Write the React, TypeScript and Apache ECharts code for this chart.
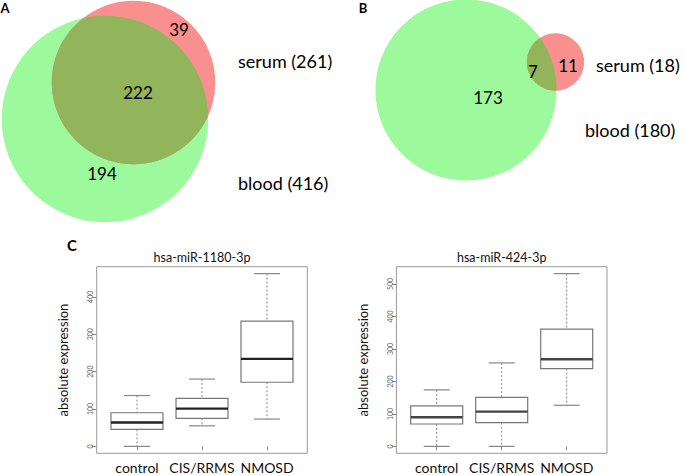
import React, { useEffect, useRef } from "react";
import * as echarts from "echarts";

// ---------- data ----------
const setNames = ["blood", "serum"];
const vennATotals = [416, 261]; // blood, serum
const vennACounts = [194, 222, 39]; // blood only, both, serum only
const vennBTotals = [180, 18];
const vennBCounts = [173, 7, 11];

const boxCategories = ["control", "CIS/RRMS", "NMOSD"];
const boxTitles = ["hsa-miR-1180-3p", "hsa-miR-424-3p"];
// [low whisker, Q1, median, Q3, high whisker]
const mir1180 = [
  [0, 45.5, 64, 90, 136],
  [55, 75, 101, 128.5, 180],
  [73, 171.5, 234, 335, 462],
];
const mir424 = [
  [0, 69, 89.5, 124.5, 174],
  [0, 73, 107, 151, 257],
  [126.5, 239.5, 268.5, 361, 532],
];
const yTicks1180 = [0, 100, 200, 300, 400];
const yTicks424 = [0, 100, 200, 300, 400, 500];
const yAxisName = "absolute expression";
const panelLetters = ["A", "B", "C"];

// ---------- layout / style ----------
const FONT = "Lato, 'Open Sans', sans-serif";
const GREEN = "#9cf99c";
const RED = "#f98f8f";
const OLIVE = "#92b45a";

function lensPoints(c1: number[], r1: number, c2: number[], r2: number) {
  const dx = c2[0] - c1[0];
  const dy = c2[1] - c1[1];
  const d = Math.sqrt(dx * dx + dy * dy);
  const t12 = Math.atan2(dy, dx);
  const t21 = t12 + Math.PI;
  const a1 = Math.acos((d * d + r1 * r1 - r2 * r2) / (2 * d * r1));
  const a2 = Math.acos((d * d + r2 * r2 - r1 * r1) / (2 * d * r2));
  const pts: number[][] = [];
  const n = 90;
  for (let i = 0; i <= n; i++) {
    const t = t12 - a1 + (2 * a1 * i) / n;
    pts.push([c1[0] + r1 * Math.cos(t), c1[1] + r1 * Math.sin(t)]);
  }
  for (let i = 0; i <= n; i++) {
    const t = t21 - a2 + (2 * a2 * i) / n;
    pts.push([c2[0] + r2 * Math.cos(t), c2[1] + r2 * Math.sin(t)]);
  }
  return pts;
}

function venn(
  totals: number[],
  counts: number[],
  k: number,
  cBlood: number[],
  cSerum: number[],
  countPos: number[][],
  namePos: number[][],
) {
  const rB = k * Math.sqrt(totals[0]);
  const rS = k * Math.sqrt(totals[1]);
  const els: any[] = [
    { type: "circle", shape: { cx: cBlood[0], cy: cBlood[1], r: rB }, style: { fill: GREEN } },
    { type: "circle", shape: { cx: cSerum[0], cy: cSerum[1], r: rS }, style: { fill: RED } },
    { type: "polygon", shape: { points: lensPoints(cBlood, rB, cSerum, rS) }, style: { fill: OLIVE } },
  ];
  counts.forEach((c, i) => {
    els.push({
      type: "text",
      x: countPos[i][0],
      y: countPos[i][1],
      style: { text: String(c), fill: "#000", font: `17px ${FONT}`, textAlign: "center", textVerticalAlign: "middle" },
    });
  });
  // serum label first (upper), then blood
  [1, 0].forEach((si, j) => {
    els.push({
      type: "text",
      x: namePos[j][0],
      y: namePos[j][1],
      style: {
        text: `${setNames[si]} (${totals[si]})`,
        fill: "#000",
        font: `18px ${FONT}`,
        textAlign: "left",
        textVerticalAlign: "middle",
      },
    });
  });
  return els;
}

const BAND = 65;
const GRIDS = [
  { left: 104.5, top: 266.7, height: 186.6 },
  { left: 404.2, top: 266.7, height: 186.6 },
];

export default function App() {
  const ref = useRef<HTMLDivElement>(null);
  useEffect(() => {
    document.body.style.margin = "0";
    const chart = echarts.init(ref.current!, null, { renderer: "svg" });
    const datasets = [mir1180, mir424];
    const ticks = [yTicks1180, yTicks424];
    const pad = 0.12 * BAND;

    const grids = GRIDS.map((g) => ({ left: g.left, top: g.top, width: BAND * 3, height: g.height }));
    const xAxes = GRIDS.map((_, i) => ({
      type: "category",
      gridIndex: i,
      data: boxCategories,
      axisLine: { show: false },
      axisTick: { show: true, alignWithLabel: true, interval: 0, length: 4, lineStyle: { color: "#888" } },
      axisLabel: { interval: 0, margin: 7, color: "#111", fontSize: 14, fontFamily: FONT },
      splitLine: { show: false },
    }));
    const yAxes = GRIDS.map((_, i) => {
      const all = datasets[i].flat();
      const lo = Math.min(...all);
      const hi = Math.max(...all);
      const ext = (hi - lo) * 0.04;
      return {
        type: "value",
        gridIndex: i,
        min: lo - ext,
        max: hi + ext,
        offset: pad,
        name: yAxisName,
        nameLocation: "middle",
        nameGap: 27,
        nameTextStyle: { fontSize: 13, color: "#111", fontFamily: FONT },
        axisLine: { show: false },
        axisTick: { show: true, length: 4.5, lineStyle: { color: "#888" }, customValues: ticks[i] },
        axisLabel: { rotate: 90, fontSize: 7, color: "#666", margin: 3, customValues: ticks[i], fontFamily: FONT },
        splitLine: { show: false },
      };
    });

    const series = datasets.map((ds, i) => ({
      type: "custom",
      xAxisIndex: i,
      yAxisIndex: i,
      data: ds.map((d, j) => [j, ...d]),
      encode: { x: 0, y: [1, 2, 3, 4, 5] },
      renderItem: (params: any, api: any) => {
        const x = api.value(0);
        const v = [1, 2, 3, 4, 5].map((k) => api.value(k));
        const p = v.map((val) => api.coord([x, val]));
        const cx = p[0][0];
        const bw = api.size([1, 0])[0] * 0.8;
        const gray = "#888";
        return {
          type: "group",
          children: [
            { type: "line", shape: { x1: cx, y1: p[4][1], x2: cx, y2: p[3][1] }, style: { stroke: gray, lineWidth: 1, lineDash: [2, 2] } },
            { type: "line", shape: { x1: cx, y1: p[1][1], x2: cx, y2: p[0][1] }, style: { stroke: gray, lineWidth: 1, lineDash: [2, 2] } },
            { type: "line", shape: { x1: cx - bw / 4, y1: p[4][1], x2: cx + bw / 4, y2: p[4][1] }, style: { stroke: gray, lineWidth: 1.2 } },
            { type: "line", shape: { x1: cx - bw / 4, y1: p[0][1], x2: cx + bw / 4, y2: p[0][1] }, style: { stroke: gray, lineWidth: 1.2 } },
            {
              type: "rect",
              shape: { x: cx - bw / 2, y: p[3][1], width: bw, height: p[1][1] - p[3][1] },
              style: { fill: "#fff", stroke: "#777", lineWidth: 1.2 },
            },
            { type: "line", shape: { x1: cx - bw / 2, y1: p[2][1], x2: cx + bw / 2, y2: p[2][1] }, style: { stroke: i === 0 ? "#222" : "#444", lineWidth: 2.4 } },
          ],
        };
      },
    }));

    const graphics: any[] = [];
    // Venn A
    graphics.push(
      ...venn(vennATotals, vennACounts, 5.06, [105, 119], [133.5, 82.5],
        [[102, 173], [138, 92], [179, 29]], [[238, 61], [238, 183]]),
    );
    // Venn B
    graphics.push(
      ...venn(vennBTotals, vennBCounts, 6.75, [466, 90], [555.5, 62],
        [[488, 97], [533, 71], [568, 65]], [[596, 65], [585, 130]]),
    );
    // panel letters
    [[5, 8], [363, 8], [72, 245]].forEach((pos, i) => {
      graphics.push({
        type: "text",
        x: pos[0],
        y: pos[1],
        style: { text: panelLetters[i], font: `bold ${i === 2 ? 15 : 13}px ${FONT}`, fill: "#000", textAlign: "center", textVerticalAlign: "middle" },
      });
    });
    // frames + titles
    GRIDS.forEach((g, i) => {
      const fx = g.left - pad;
      const fw = BAND * 3 + 2 * pad;
      graphics.push({
        type: "rect",
        shape: { x: fx, y: g.top, width: fw, height: g.height },
        style: { fill: "none", stroke: "#999", lineWidth: 1 },
        z: 10,
      });
      graphics.push({
        type: "text",
        x: fx + fw / 2,
        y: 257,
        style: { text: boxTitles[i], font: `12.5px ${FONT}`, fill: "#111", textAlign: "center", textVerticalAlign: "middle" },
      });
    });

    chart.setOption({
      animation: false,
      backgroundColor: "#fff",
      grid: grids,
      xAxis: xAxes,
      yAxis: yAxes,
      series,
      graphic: graphics,
    });
    return () => chart.dispose();
  }, []);
  return <div ref={ref} style={{ position: "fixed", left: 0, top: 0, width: 685, height: 475 }} />;
}
